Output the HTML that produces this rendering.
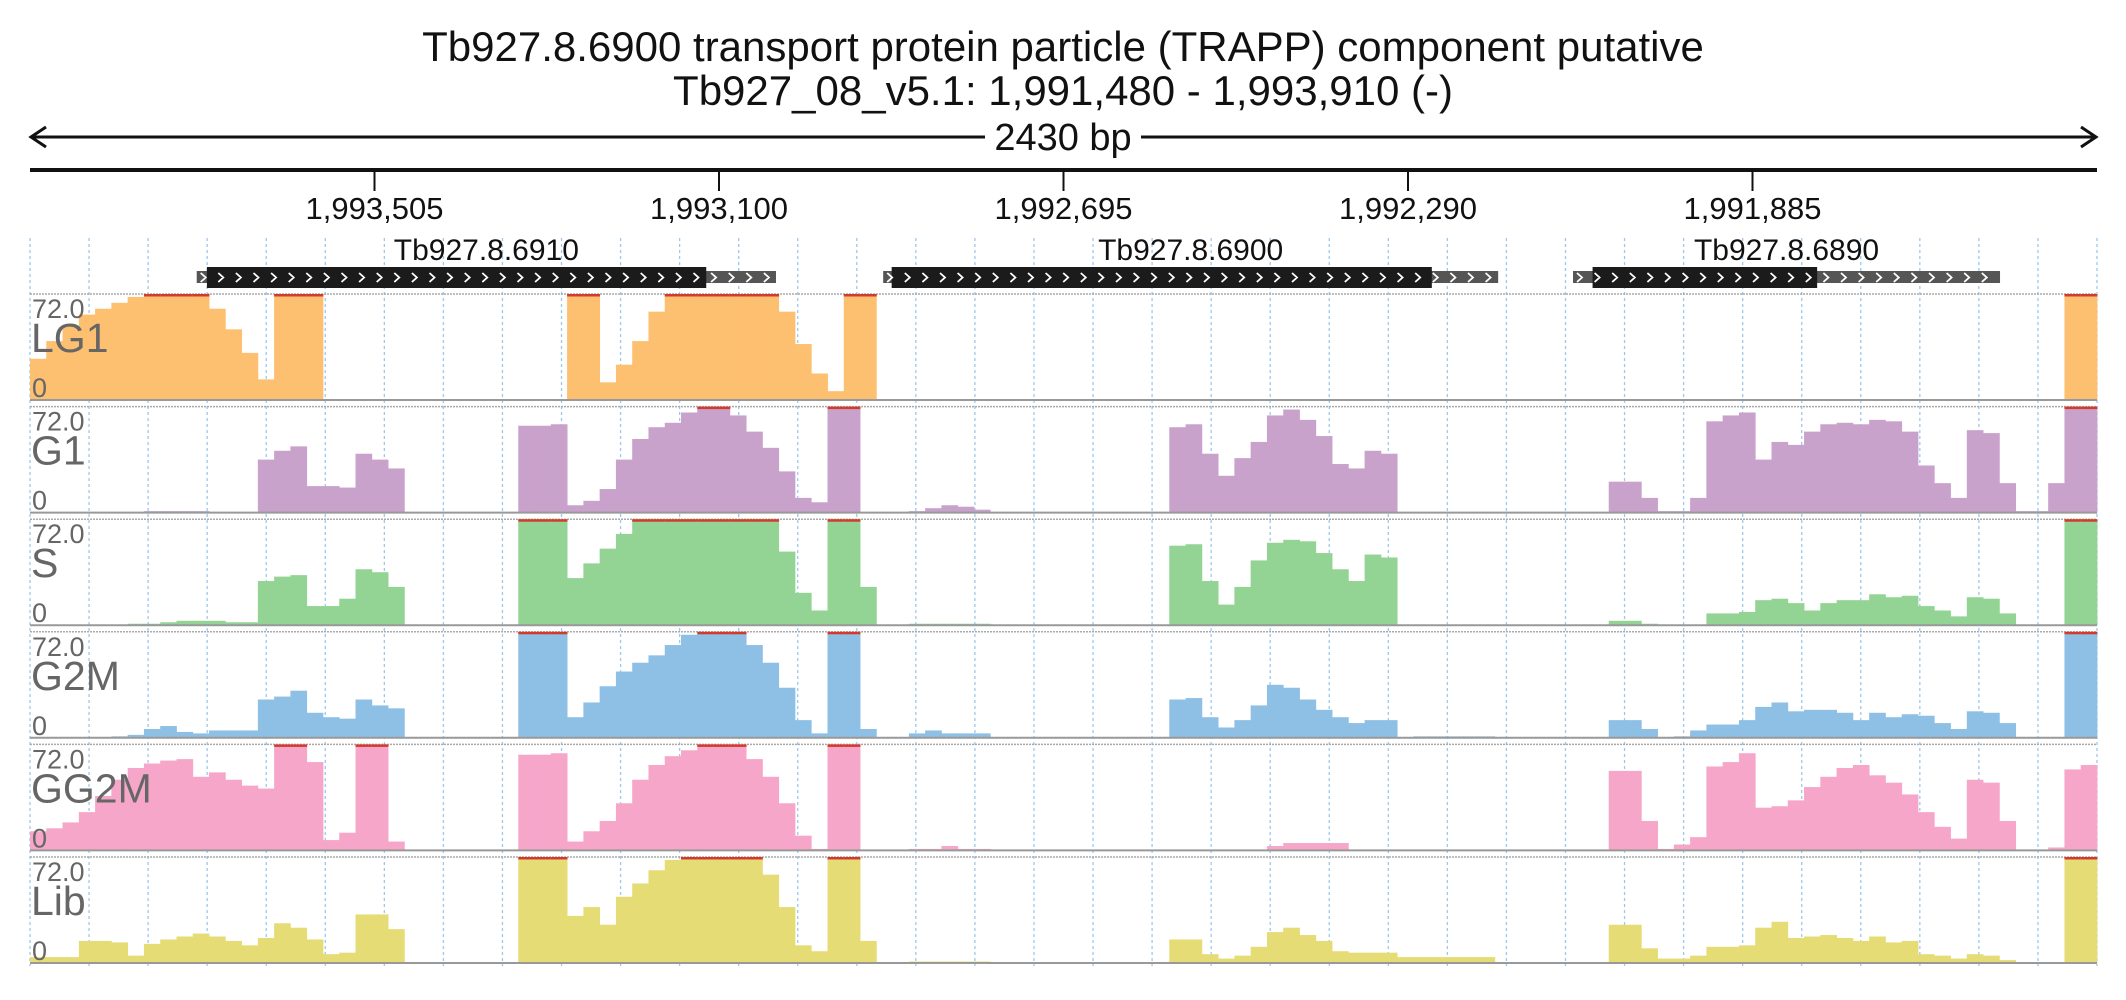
<!DOCTYPE html>
<html><head><meta charset="utf-8"><style>
html,body{margin:0;padding:0;background:#fff;}
svg{display:block;font-family:"Liberation Sans",sans-serif;}
</style></head><body>
<svg id="chart" width="2126" height="1000" viewBox="0 0 2126 1000" xmlns="http://www.w3.org/2000/svg">
<text x="1063" y="61" font-size="42" text-anchor="middle" fill="#111">Tb927.8.6900  transport protein particle (TRAPP) component  putative</text>
<text x="1063" y="105" font-size="42" text-anchor="middle" fill="#111">Tb927_08_v5.1: 1,991,480 - 1,993,910 (-)</text>
<g stroke="#111" stroke-width="3" fill="none">
<line x1="32" y1="137" x2="2095" y2="137"/>
<polyline points="46,127 31,137 46,147"/>
<polyline points="2081,127 2096,137 2081,147"/>
</g>
<rect x="985" y="118" width="156" height="38" fill="#fff"/>
<text x="1063" y="150" font-size="38" text-anchor="middle" fill="#111">2430 bp</text>
<line x1="30" y1="170" x2="2097" y2="170" stroke="#111" stroke-width="4"/>
<g id="ticks"></g>
<g id="grid"></g>
<g id="genes"></g>
<g id="tracks"></g>
</svg>
<script>
const startPos = 1993910;
const spanBp = 2430;
const tickPositions = [1993505, 1993100, 1992695, 1992290, 1991885];
const tickLabels = ["1,993,505", "1,993,100", "1,992,695", "1,992,290", "1,991,885"];
const geneNames = ["Tb927.8.6910", "Tb927.8.6900", "Tb927.8.6890"];
const geneStart = [1993714, 1992907, 1992096];
const geneEnd = [1993033, 1992184, 1991594];
const cdsStart = [1993702, 1992897, 1992073];
const cdsEnd = [1993115, 1992262, 1991809];
const trackNames = ["LG1", "G1", "S", "G2M", "GG2M", "Lib"];
const yMax = 72;
const LG1 = [28,40,50,58,62,66,70,72,72,72, 72,62,48,32,14,72,72,72,0,0, 0,0,0,0,0,0,0,0,0,0, 0,0,0,72,72,12,24,40,60,72, 72,72,72,72,72,72,60,38,18,6, 72,72,0,0,0,0,0,0,0,0, 0,0,0,0,0,0,0,0,0,0, 0,0,0,0,0,0,0,0,0,0, 0,0,0,0,0,0,0,0,0,0, 0,0,0,0,0,0,0,0,0,0, 0,0,0,0,0,0,0,0,0,0, 0,0,0,0,0,0,0,0,0,0, 0,0,0,0,0,72,72];
const G1 = [0,0,0,0,0,0,0,1,1,1, 1,0,0,0,36,42,45,18,18,17, 40,36,30,0,0,0,0,0,0,0, 59,59,60,5,8,16,36,50,58,61, 68,72,72,66,55,44,28,10,7,72, 72,0,0,0,1,3,5,4,2,0, 0,0,0,0,0,0,0,0,0,0, 58,60,40,25,37,48,66,70,63,52, 33,30,42,40,0,0,0,0,0,0, 0,0,0,0,0,0,0,21,21,10, 1,1,10,62,66,68,36,48,46,55, 60,61,60,63,62,55,32,20,10,56, 54,20,1,1,20,72,72];
const S = [0,0,0,0,0,0,1,1,2,3, 3,3,2,2,30,33,34,13,13,18, 38,36,26,0,0,0,0,0,0,0, 72,72,72,32,42,52,62,72,72,72, 72,72,72,72,72,72,50,22,10,72, 72,26,0,0,1,1,1,1,1,0, 0,0,0,0,0,0,0,0,0,0, 54,55,30,14,26,44,56,58,57,49, 38,30,48,46,0,0,0,0,0,0, 0,0,0,0,0,0,0,3,3,1, 0,0,0,8,8,9,17,18,15,10, 15,17,17,21,19,20,13,10,6,19, 18,8,0,0,0,72,72];
const G2M = [0,0,0,0,0,1,2,6,8,4, 3,5,5,5,26,28,32,17,14,13, 26,22,20,0,0,0,0,0,0,0, 72,72,72,14,24,35,45,51,56,63, 70,72,72,72,63,51,34,12,3,72, 72,6,0,0,3,5,3,3,3,0, 0,0,0,0,0,0,0,0,0,0, 26,27,14,7,12,22,36,34,26,19, 14,10,12,12,0,1,1,1,1,1, 0,0,0,0,0,0,0,12,12,6, 0,1,5,9,9,12,21,24,18,19, 19,17,12,17,14,16,15,10,6,18, 17,10,0,0,0,72,72];
const GG2M = [13,15,19,26,37,48,56,59,61,62, 50,53,48,44,42,72,72,60,7,12, 72,72,6,0,0,0,0,0,0,0, 65,65,66,6,13,20,32,48,58,64, 68,72,72,72,62,50,32,10,1,72, 72,0,0,0,1,1,3,1,1,0, 0,0,0,0,0,0,0,0,0,0, 0,0,0,0,0,0,3,5,5,5, 5,0,0,0,0,0,0,0,0,0, 0,0,0,0,0,0,0,54,54,20, 1,4,9,57,60,66,29,30,34,43, 50,56,58,51,46,38,26,16,8,48, 46,20,0,0,2,55,58];
const Lib = [4,4,4,15,15,14,5,13,16,18, 20,18,15,12,17,27,24,16,6,7, 33,33,23,0,0,0,0,0,0,0, 72,72,72,32,38,26,45,54,63,70, 72,72,72,72,72,60,38,12,8,72, 72,15,0,0,1,1,1,1,1,0, 0,0,0,0,0,0,0,0,0,0, 16,16,6,3,5,11,21,24,19,15, 8,7,7,7,4,4,4,4,4,4, 0,0,0,0,0,0,0,26,26,10, 3,3,5,11,11,12,24,28,17,18, 19,17,15,18,14,15,6,5,3,6, 5,2,0,0,0,72,72];
const trackData = [LG1, G1, S, G2M, GG2M, Lib];
const trackColors = ["#fdbf70", "#c9a2cc", "#93d494", "#8ec0e6", "#f6a6c9", "#e6dc76"];

const NS = "http://www.w3.org/2000/svg";
const X0 = 30, X1 = 2097;
function xPos(bp){ return X0 + (startPos - bp) / spanBp * (X1 - X0); }
function mk(tag, attrs, parent){ const e = document.createElementNS(NS, tag); for (const k in attrs) e.setAttribute(k, attrs[k]); parent.appendChild(e); return e; }

const tg = document.getElementById('ticks');
tickPositions.forEach((p, i) => {
  const x = xPos(p);
  const l = mk('line', {x1:x, y1:170, x2:x, y2:191, stroke:'#111', 'stroke-width':2}, tg);
  
  
  const t = mk('text', {x:x, y:219, 'font-size':31, 'text-anchor':'middle', fill:'#111'}, tg);
  
  
  t.textContent = tickLabels[i];
});

const gg = document.getElementById('grid');
for (let i = 0; i <= 35; i++) {
  const x = X0 + i * (X1 - X0) / 35;
  const l = mk('line', {x1:x, y1:238, x2:x, y2:966, stroke:'#9cc8ee', 'stroke-width':1.3, 'stroke-dasharray':'3,3'}, gg);
  
  
}

const genesG = document.getElementById('genes');
geneNames.forEach((name, i) => {
  const g = mk('g', {}, genesG);
  
  
  const gx0 = xPos(geneStart[i]), gx1 = xPos(geneEnd[i]);
  const cx0 = xPos(cdsStart[i]), cx1 = xPos(cdsEnd[i]);
  mk('rect', {x:gx0, y:271, width:gx1 - gx0, height:12, fill:'#555'}, g);
  mk('rect', {x:cx0, y:267, width:cx1 - cx0, height:21, fill:'#1b1b1b'}, g);
  let d = '';
  for (let x = gx0 + 4; x < gx1 - 6; x += 17.6) {
    d += 'M' + x.toFixed(1) + ',273 L' + (x + 5).toFixed(1) + ',277.5 L' + x.toFixed(1) + ',282 ';
  }
  mk('path', {d:d, stroke:'#fff', 'stroke-width':1.8, fill:'none'}, g);
  const t = mk('text', {x:(gx0 + gx1) / 2, y:260, 'font-size':30, 'text-anchor':'middle', fill:'#111'}, g);
  
  
  t.textContent = name;
});

const trG = document.getElementById('tracks');
const TH = 106, TPITCH = 112.6, TTOP = 294;
trackNames.forEach((name, k) => {
  const data = trackData[k];
  const top = TTOP + k * TPITCH, bot = top + TH;
  const g = mk('g', {}, trG);
  
  
  mk('line', {x1:X0, y1:top, x2:X1, y2:top, stroke:'#aaa', 'stroke-width':1.5, 'stroke-dasharray':'2,1'}, g);
  const n = data.length, bw = (X1 - X0) / n;
  const yv = v => bot - Math.min(v, yMax) / yMax * TH;
  data.forEach((v, i) => {
    if (v <= 0) return;
    const x = X0 + i * bw, y = yv(v);
    const r = mk('rect', {x:x.toFixed(2), y:y.toFixed(2), width:(bw + 0.4).toFixed(2), height:(bot - y).toFixed(2), fill:trackColors[k]}, g);
    
    
    if (v >= yMax) {
      const c = mk('rect', {x:x.toFixed(2), y:top, width:(bw + 0.4).toFixed(2), height:2.5, fill:'#d33a2c'}, g);
      
      
    }
  });
  mk('line', {x1:X0, y1:bot, x2:X1, y2:bot, stroke:'#999', 'stroke-width':2}, g);
  const t1 = mk('text', {x:32, y:top + 24, 'font-size':27, fill:'#666'}, g);
  
  
  t1.textContent = '72.0';
  const t2 = mk('text', {x:31, y:top + 58, 'font-size':41, fill:'#666'}, g);
  
  
  t2.textContent = name;
  const t3 = mk('text', {x:32, y:bot - 3, 'font-size':27, fill:'#666'}, g);
  
  
  t3.textContent = '0';
});
</script>
</body></html>
